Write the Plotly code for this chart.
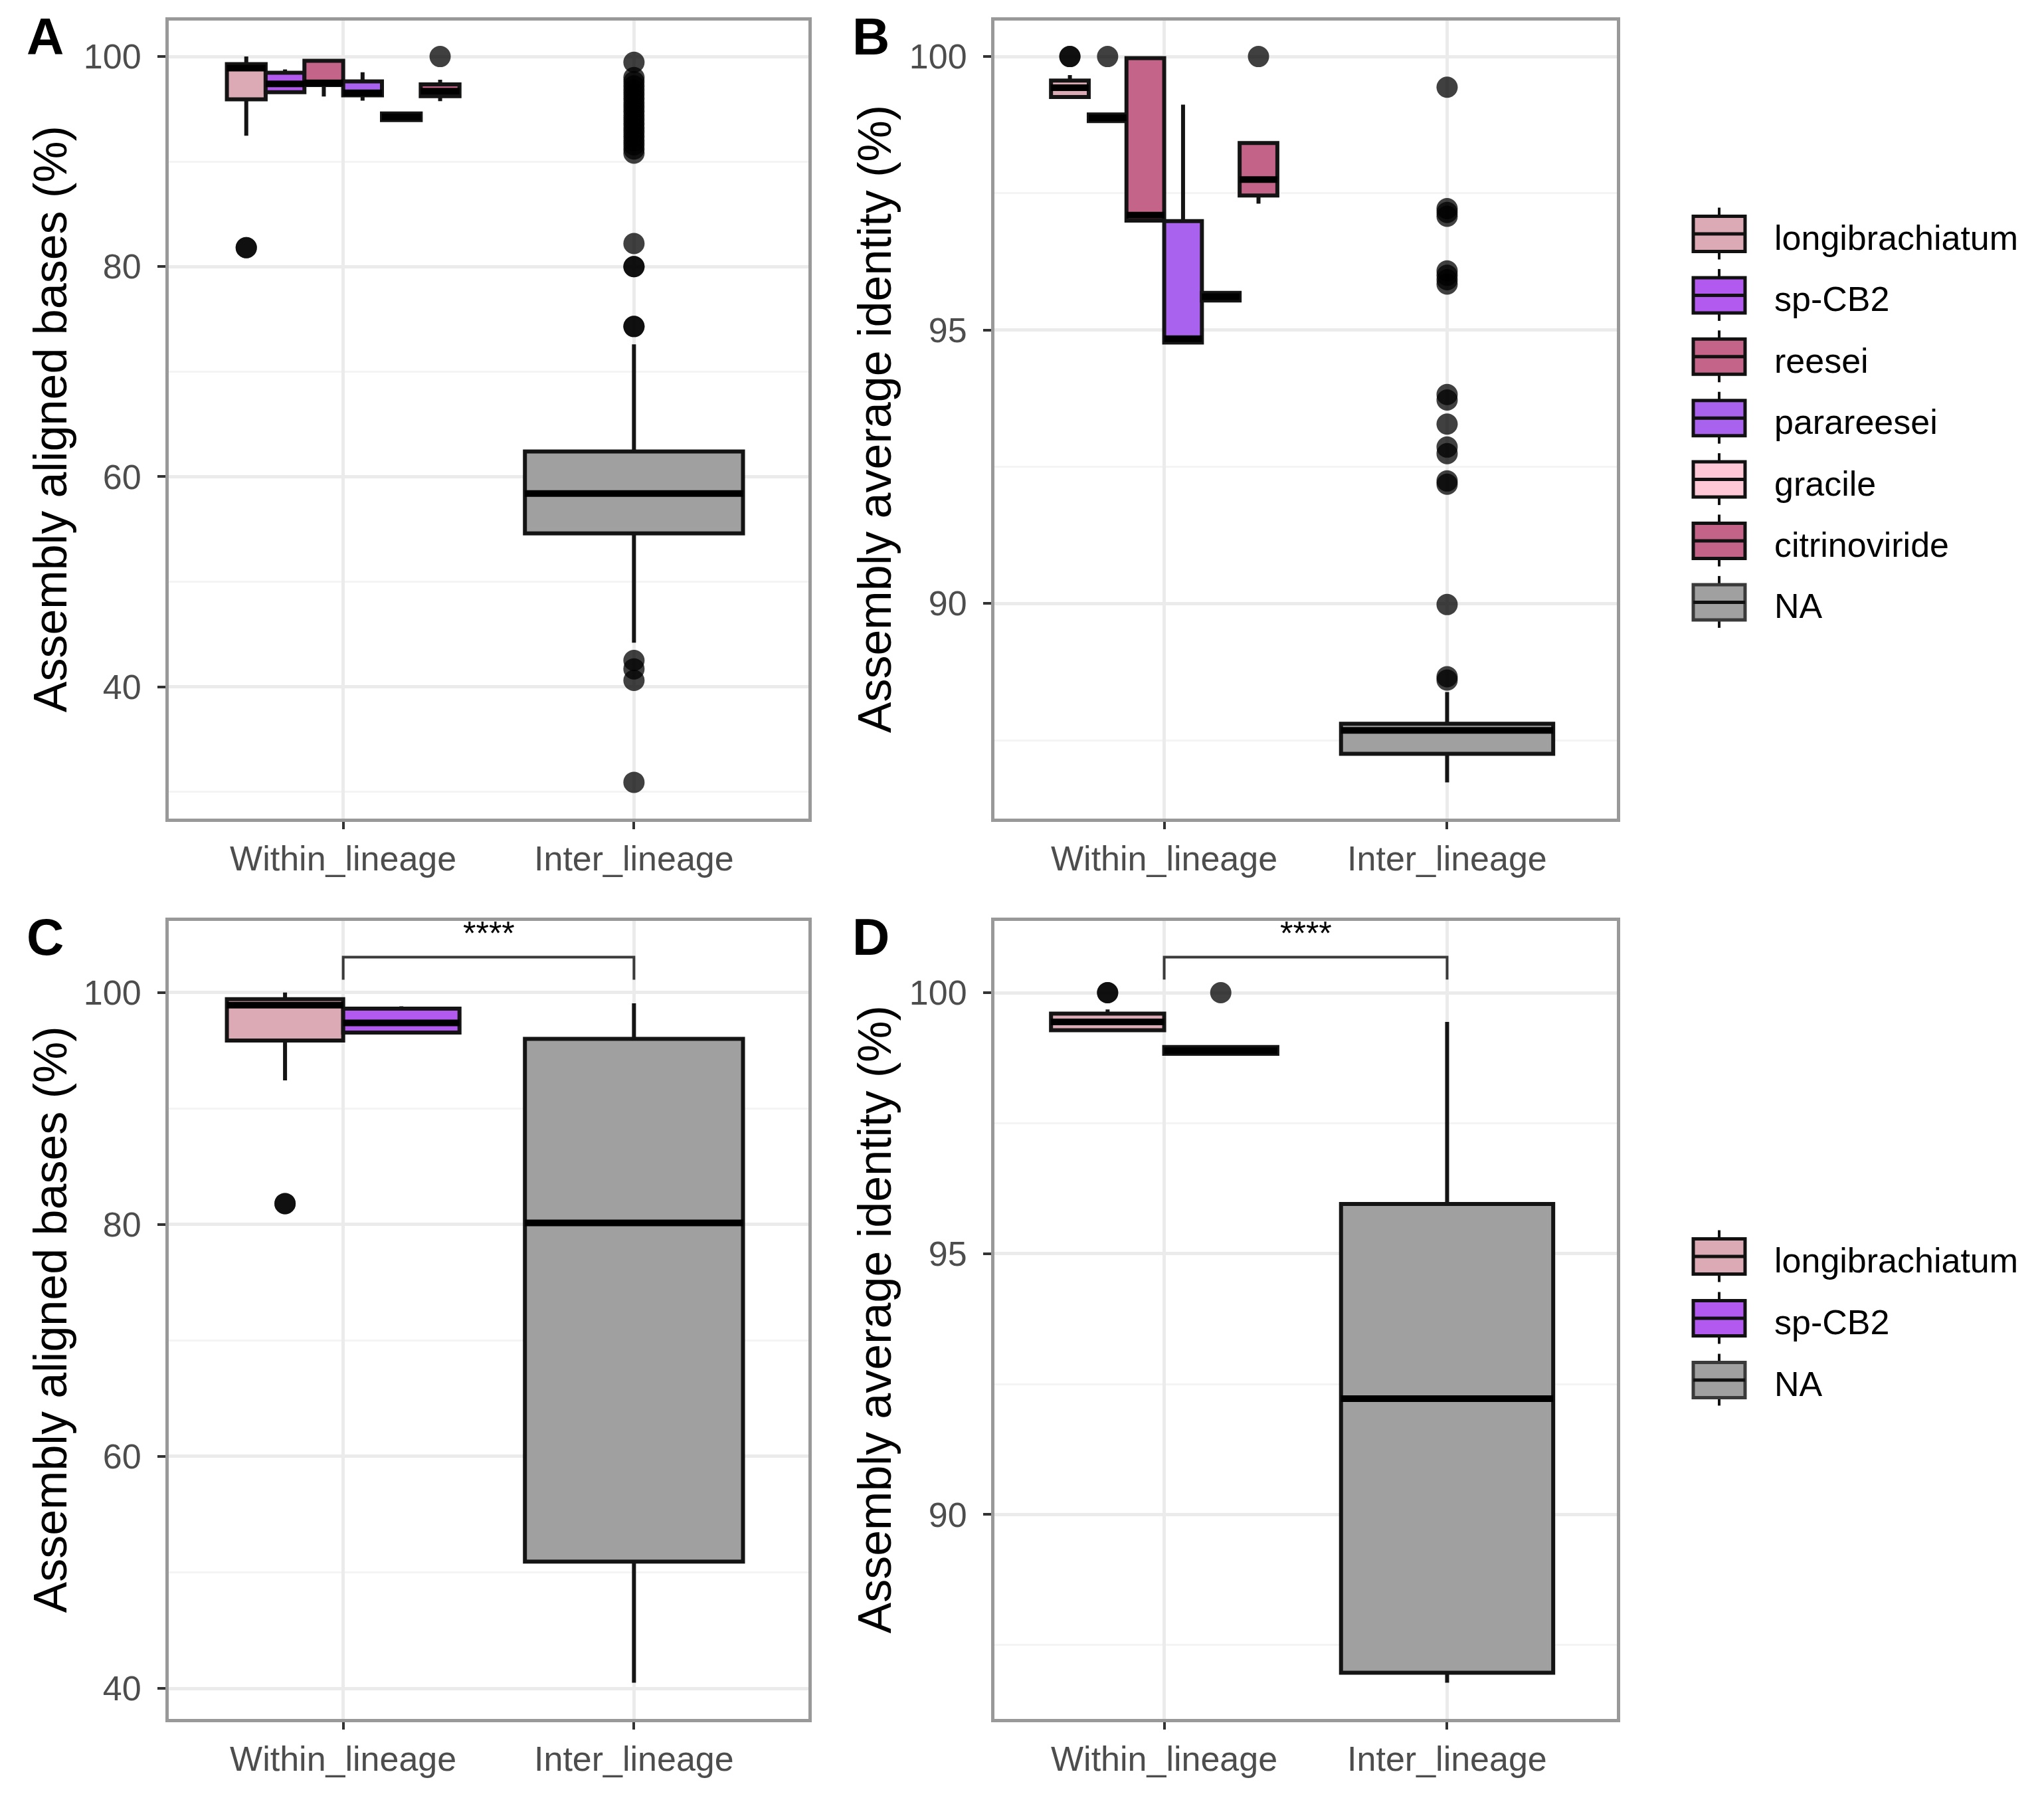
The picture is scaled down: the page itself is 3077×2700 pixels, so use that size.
import plotly.graph_objects as go

W, H = 3077, 2700
FONT = "Liberation Sans, Arial, sans-serif"

# ---------------- data ----------------
categories = ["Within_lineage", "Inter_lineage"]
cat_pos = [1, 2]

species_top = ["longibrachiatum", "sp-CB2", "reesei", "parareesei", "gracile", "citrinoviride"]
species_bottom = ["longibrachiatum", "sp-CB2"]
legend_top = species_top + ["NA"]
legend_bottom = species_bottom + ["NA"]

fill_colors = {
    "longibrachiatum": "#DBAAB5",
    "sp-CB2": "#B25AF0",
    "reesei": "#C46489",
    "parareesei": "#A962EE",
    "gracile": "#FFC8D6",
    "citrinoviride": "#C36388",
    "NA": "#A0A0A0",
}

# Panel A  - Assembly aligned bases (%), within lineage per species
A_q1 = [95.92, 96.60, 97.28, 96.30, 93.95, 96.23]
A_median = [98.90, 97.40, 97.50, 96.55, 94.26, 96.70]
A_q3 = [99.28, 98.45, 99.60, 97.64, 94.58, 97.35]
A_lower = [92.46, 96.60, 96.20, 95.80, 93.95, 95.76]
A_upper = [100.0, 98.77, 99.65, 98.50, 94.58, 97.80]
A_outliers = [[81.8, 81.8], [], [], [], [], [100.0]]
A_na = [54.6, 58.4, 62.4, 44.2, 72.6]   # q1, median, q3, lower, upper
A_na_outliers = [99.45, 98.0, 97.6, 97.2, 96.8, 96.4, 96.0, 95.6, 95.2, 94.8,
                 94.4, 94.0, 93.6, 93.2, 92.8, 92.4, 92.0, 91.6, 91.2, 90.8,
                 82.2, 80.0, 80.0, 74.3, 74.3, 42.5, 41.7, 40.6, 30.9]

# Panel B  - Assembly average identity (%)
B_q1 = [99.26, 98.82, 97.00, 94.77, 95.54, 97.46]
B_median = [99.43, 98.88, 97.10, 94.84, 95.61, 97.75]
B_q3 = [99.56, 98.94, 99.97, 96.99, 95.68, 98.42]
B_lower = [99.26, 98.82, 97.00, 94.77, 95.54, 97.31]
B_upper = [99.66, 98.94, 99.97, 99.12, 95.68, 98.42]
B_outliers = [[100.0, 100.0], [100.0], [], [], [], [100.0]]
B_na = [87.25, 87.68, 87.80, 86.73, 88.38]
B_na_outliers = [99.44, 97.22, 97.15, 97.08, 96.08, 96.0, 95.92, 95.84, 93.82, 93.72,
                 93.28, 92.86, 92.74, 92.24, 92.18, 89.98, 88.66, 88.6]

# Panel C  - Assembly aligned bases (%)
C_q1 = [95.85, 96.55]
C_median = [98.90, 97.38]
C_q3 = [99.42, 98.60]
C_lower = [92.42, 96.55]
C_upper = [100.0, 98.80]
C_outliers = [[81.8, 81.8], []]
C_na = [50.93, 80.14, 96.00, 40.5, 99.06]
C_na_outliers = []
C_bracket = [103.04, 101.1]   # bracket height, tip end
C_signif = "****"

# Panel D  - Assembly average identity (%)
D_q1 = [99.28, 98.83]
D_median = [99.44, 98.89]
D_q3 = [99.60, 98.96]
D_lower = [99.28, 98.83]
D_upper = [99.68, 98.96]
D_outliers = [[100.0, 100.0], [100.0]]
D_na = [86.97, 92.22, 95.95, 86.78, 99.44]
D_na_outliers = []
D_bracket = [100.68, 100.25]
D_signif = "****"

title_aligned = "Assembly aligned bases (%)"
title_identity = "Assembly average identity (%)"

# ---------------- style / layout ----------------
DODGE = 0.8
NA_WIDTH = 0.75
BOX_LINE = "#141414"
TICK_GREY = "#4D4D4D"

panels = [
    dict(tag="A", xa="x", ya="y", xd=(254, 1217), yd=(30.5, 1232), title=title_aligned,
         species=species_top, q1=A_q1, med=A_median, q3=A_q3, lo=A_lower, up=A_upper,
         outs=A_outliers, na=A_na, na_outs=A_na_outliers, bracket=None, dtick=20, minor=10),
    dict(tag="B", xa="x2", ya="y2", xd=(1497, 2434), yd=(30.5, 1232), title=title_identity,
         species=species_top, q1=B_q1, med=B_median, q3=B_q3, lo=B_lower, up=B_upper,
         outs=B_outliers, na=B_na, na_outs=B_na_outliers, bracket=None, dtick=5, minor=2.5),
    dict(tag="C", xa="x3", ya="y3", xd=(254, 1217), yd=(1386, 2587), title=title_aligned,
         species=species_bottom, q1=C_q1, med=C_median, q3=C_q3, lo=C_lower, up=C_upper,
         outs=C_outliers, na=C_na, na_outs=C_na_outliers, bracket=(C_bracket, C_signif),
         dtick=20, minor=10),
    dict(tag="D", xa="x4", ya="y4", xd=(1497, 2434), yd=(1386, 2587), title=title_identity,
         species=species_bottom, q1=D_q1, med=D_median, q3=D_q3, lo=D_lower, up=D_upper,
         outs=D_outliers, na=D_na, na_outs=D_na_outliers, bracket=(D_bracket, D_signif),
         dtick=5, minor=2.5),
]

fig = go.Figure()
annotations = []
shapes = []


def px_x(px):
    return px / W


def px_y(py):
    return 1 - py / H


def add_box(xa, ya, pos, w, q1, med, q3, lo, up, outs, fill):
    fig.add_trace(go.Box(
        x=[pos], q1=[q1], median=[med], q3=[q3], lowerfence=[lo], upperfence=[up],
        width=w, fillcolor=fill, line=dict(color=BOX_LINE, width=6),
        whiskerwidth=0, boxpoints=False, showlegend=False, hoverinfo="skip",
        xaxis=xa, yaxis=ya))
    fig.add_trace(go.Scatter(
        x=[pos - w / 2, pos + w / 2], y=[med, med], mode="lines",
        line=dict(color="#000000", width=10), showlegend=False, hoverinfo="skip",
        xaxis=xa, yaxis=ya))
    if outs:
        fig.add_trace(go.Scatter(
            x=[pos] * len(outs), y=outs, mode="markers",
            marker=dict(size=32, color="rgba(0,0,0,0.75)", line=dict(width=0)),
            showlegend=False, hoverinfo="skip", xaxis=xa, yaxis=ya))


layout_axes = {}
for i, p in enumerate(panels):
    n = len(p["species"])
    slot = DODGE / n
    values = []
    for j, sp in enumerate(p["species"]):
        pos = cat_pos[0] - DODGE / 2 + slot * (j + 0.5)
        add_box(p["xa"], p["ya"], pos, slot, p["q1"][j], p["med"][j], p["q3"][j],
                p["lo"][j], p["up"][j], p["outs"][j], fill_colors[sp])
        values += [p["q1"][j], p["med"][j], p["q3"][j], p["lo"][j], p["up"][j]] + p["outs"][j]
    na = p["na"]
    add_box(p["xa"], p["ya"], cat_pos[1], NA_WIDTH, na[0], na[1], na[2], na[3], na[4],
            p["na_outs"], fill_colors["NA"])
    values += na + p["na_outs"]

    if p["bracket"] is not None:
        (by, tip), label = p["bracket"]
        values.append(by)
        fig.add_trace(go.Scatter(
            x=[cat_pos[0], cat_pos[0], cat_pos[1], cat_pos[1]], y=[tip, by, by, tip],
            mode="lines", line=dict(color="#3a3a3a", width=4), showlegend=False,
            hoverinfo="skip", xaxis=p["xa"], yaxis=p["ya"]))
        annotations.append(dict(
            x=(cat_pos[0] + cat_pos[1]) / 2, y=by, xref=p["xa"], yref=p["ya"],
            text=label, showarrow=False, xanchor="center", yanchor="middle", yshift=36,
            font=dict(size=50, color="#000000", family=FONT)))

    lo_v, hi_v = min(values), max(values)
    span = hi_v - lo_v
    yr = [lo_v - 0.05 * span, hi_v + 0.05 * span]
    xr = [cat_pos[0] - 0.6, cat_pos[-1] + 0.6]

    suffix = "" if i == 0 else str(i + 1)
    layout_axes["xaxis" + suffix] = dict(
        domain=[px_x(p["xd"][0]), px_x(p["xd"][1])], anchor=p["ya"], type="linear",
        range=xr, tickvals=cat_pos, ticktext=categories,
        ticks="outside", ticklen=11, tickwidth=4, tickcolor="#333333",
        showline=True, mirror=True, linecolor="#999999", linewidth=5,
        showgrid=True, gridcolor="#EBEBEB", gridwidth=5, zeroline=False,
        tickfont=dict(size=52, color=TICK_GREY, family=FONT), ticklabelstandoff=0,
        fixedrange=True)
    layout_axes["yaxis" + suffix] = dict(
        domain=[px_y(p["yd"][1]), px_y(p["yd"][0])], anchor=p["xa"], type="linear",
        range=yr, tick0=0, dtick=p["dtick"],
        ticks="outside", ticklen=12, tickwidth=4, tickcolor="#333333",
        showline=True, mirror=True, linecolor="#999999", linewidth=5,
        showgrid=True, gridcolor="#EBEBEB", gridwidth=5, zeroline=False,
        minor=dict(tick0=0, dtick=p["minor"], showgrid=True, gridcolor="#F4F4F4", gridwidth=3),
        tickfont=dict(size=52, color=TICK_GREY, family=FONT), ticklabelstandoff=14,
        fixedrange=True)

    # y-axis title
    ymid = (p["yd"][0] + p["yd"][1]) / 2
    title_x = 76 if p["xd"][0] < 1000 else 1317
    annotations.append(dict(
        x=px_x(title_x), y=px_y(ymid), xref="paper", yref="paper", text=p["title"],
        textangle=-90, showarrow=False, xanchor="center", yanchor="middle",
        font=dict(size=70, color="#000000", family=FONT)))
    # panel tag
    tag_x = 68 if p["xd"][0] < 1000 else 1311
    tag_y = 55 if p["yd"][0] < 500 else 1410
    annotations.append(dict(
        x=px_x(tag_x), y=px_y(tag_y), xref="paper", yref="paper",
        text="<b>%s</b>" % p["tag"], showarrow=False, xanchor="center", yanchor="middle",
        font=dict(size=78, color="#000000", family=FONT)))


# ---------------- legends (ggplot style keys) ----------------
def draw_legend(names, first_center, step):
    cx, hw, hh = 2588, 39, 26.5
    for k, name in enumerate(names):
        cy = first_center + k * step
        line_col = "#3a3a3a" if name == "NA" else "#111111"
        shapes.append(dict(type="line", xref="paper", yref="paper",
                           x0=px_x(cx), x1=px_x(cx), y0=px_y(cy - hh - 13), y1=px_y(cy + hh + 12),
                           line=dict(color="#111111", width=4), layer="above"))
        shapes.append(dict(type="rect", xref="paper", yref="paper",
                           x0=px_x(cx - hw), x1=px_x(cx + hw), y0=px_y(cy + hh), y1=px_y(cy - hh),
                           fillcolor=fill_colors[name], line=dict(color=line_col, width=5),
                           layer="above"))
        shapes.append(dict(type="line", xref="paper", yref="paper",
                           x0=px_x(cx - hw), x1=px_x(cx + hw), y0=px_y(cy), y1=px_y(cy),
                           line=dict(color="#111111", width=5), layer="above"))
        annotations.append(dict(
            x=px_x(2669), y=px_y(cy + 6), xref="paper", yref="paper", text=name,
            showarrow=False, xanchor="left", yanchor="middle",
            font=dict(size=52, color="#000000", family=FONT)))


draw_legend(legend_top, 352, 92.4)
draw_legend(legend_bottom, 1891, 93)

fig.update_layout(
    width=W, height=H, margin=dict(l=0, r=0, t=0, b=0),
    paper_bgcolor="white", plot_bgcolor="white", showlegend=False,
    font=dict(family=FONT, color="#000000"),
    annotations=annotations, shapes=shapes, **layout_axes)

fig.write_html("out.html")
